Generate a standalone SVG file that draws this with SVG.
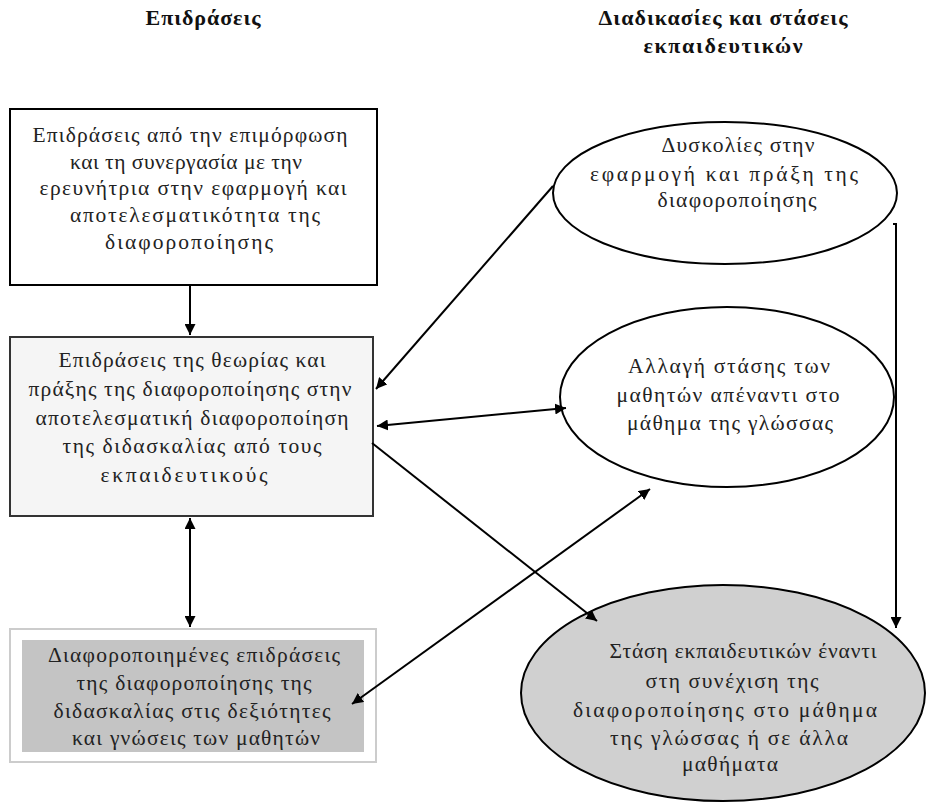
<svg xmlns="http://www.w3.org/2000/svg" width="930" height="807" viewBox="0 0 930 807">
<defs>
<style>
.t{font-family:"Liberation Serif","Times New Roman",serif;font-size:21.5px;fill:#222;text-anchor:middle}
.h{font-family:"Liberation Serif","Times New Roman",serif;font-size:22px;font-weight:bold;fill:#111;text-anchor:middle}
.c{stroke:#000;stroke-width:2;fill:none}
</style>
<marker id="ah" viewBox="0 0 10 10" refX="10" refY="5" markerWidth="11" markerHeight="11" markerUnits="userSpaceOnUse" orient="auto-start-reverse"><path d="M0,0 L10,5 L0,10 z" fill="#000"/></marker>
</defs>
<rect width="930" height="807" fill="#fff"/>
<g id="headings">
<text class="h" x="203" y="25" textLength="115" lengthAdjust="spacing">Επιδράσεις</text>
<text class="h" x="723" y="25" textLength="249" lengthAdjust="spacing">Διαδικασίες και στάσεις</text>
<text class="h" x="723" y="53" textLength="159" lengthAdjust="spacing">εκπαιδευτικών</text>
</g>
<g id="box1">
<rect x="10" y="109" width="367" height="176" fill="#fff" stroke="#000" stroke-width="2"/>
<text class="t" x="190" y="142" textLength="315" lengthAdjust="spacing">Επιδράσεις από την  επιμόρφωση</text>
<text class="t" x="186" y="169" textLength="232" lengthAdjust="spacing">και τη συνεργασία με την</text>
<text class="t" x="193" y="195" textLength="307" lengthAdjust="spacing">ερευνήτρια  στην εφαρμογή και</text>
<text class="t" x="195" y="222" textLength="250" lengthAdjust="spacing">αποτελεσματικότητα της</text>
<text class="t" x="189" y="249" textLength="168" lengthAdjust="spacing">διαφοροποίησης</text>
</g>
<g id="box2">
<rect x="10" y="337" width="363" height="179" fill="#f5f5f5" stroke="#333" stroke-width="2"/>
<text class="t" x="192" y="367" textLength="267" lengthAdjust="spacing">Επιδράσεις της θεωρίας και</text>
<text class="t" x="190" y="396" textLength="323" lengthAdjust="spacing">πράξης της διαφοροποίησης στην</text>
<text class="t" x="192" y="425" textLength="313" lengthAdjust="spacing">αποτελεσματική διαφοροποίηση</text>
<text class="t" x="192" y="453" textLength="259" lengthAdjust="spacing">της διδασκαλίας  από τους</text>
<text class="t" x="184" y="482" textLength="167" lengthAdjust="spacing">εκπαιδευτικούς</text>
</g>
<g id="box3">
<rect x="10" y="629" width="366" height="133" fill="#fff" stroke="#ccc" stroke-width="2"/>
<rect x="22" y="640" width="342" height="112" fill="#c4c4c4"/>
<text class="t" x="194" y="662" textLength="292" lengthAdjust="spacing">Διαφοροποιημένες επιδράσεις</text>
<text class="t" x="194" y="690" textLength="235" lengthAdjust="spacing">της διαφοροποίησης της</text>
<text class="t" x="192" y="718" textLength="277" lengthAdjust="spacing">διδασκαλίας στις δεξιότητες</text>
<text class="t" x="196" y="745" textLength="248" lengthAdjust="spacing">και γνώσεις των μαθητών</text>
</g>
<g id="ellipse1">
<ellipse cx="725" cy="193" rx="172" ry="71" fill="#fff" stroke="#000" stroke-width="2"/>
<text class="t" x="738" y="152" textLength="153" lengthAdjust="spacing">Δυσκολίες στην</text>
<text class="t" x="724" y="181" textLength="268" lengthAdjust="spacing">εφαρμογή και  πράξη της</text>
<text class="t" x="737" y="207" textLength="159" lengthAdjust="spacing">διαφοροποίησης</text>
</g>
<g id="ellipse2">
<ellipse cx="727" cy="397" rx="167" ry="90" fill="#fff" stroke="#000" stroke-width="2"/>
<text class="t" x="729" y="373" textLength="202" lengthAdjust="spacing">Αλλαγή στάσης  των</text>
<text class="t" x="728" y="402" textLength="223" lengthAdjust="spacing">μαθητών απέναντι  στο</text>
<text class="t" x="730" y="430" textLength="206" lengthAdjust="spacing">μάθημα της γλώσσας</text>
</g>
<g id="ellipse3">
<ellipse cx="723" cy="693" rx="202" ry="108" fill="#d0d0d0" stroke="#000" stroke-width="2"/>
<text class="t" x="743" y="658" textLength="267" lengthAdjust="spacing">Στάση εκπαιδευτικών έναντι</text>
<text class="t" x="732" y="688" textLength="173" lengthAdjust="spacing">στη συνέχιση της</text>
<text class="t" x="725" y="717" textLength="304" lengthAdjust="spacing">διαφοροποίησης στο μάθημα</text>
<text class="t" x="729" y="745" textLength="238" lengthAdjust="spacing">της γλώσσας ή σε άλλα</text>
<text class="t" x="730" y="771" textLength="96" lengthAdjust="spacing">μαθήματα</text>
</g>
<g id="connectors">
<line class="c" x1="190" y1="286" x2="190" y2="335" marker-end="url(#ah)"/>
<line class="c" x1="190" y1="518" x2="190" y2="627" marker-start="url(#ah)" marker-end="url(#ah)"/>
<line class="c" x1="553" y1="186" x2="376" y2="389" marker-end="url(#ah)"/>
<line class="c" x1="377" y1="426" x2="566" y2="408" marker-start="url(#ah)" marker-end="url(#ah)"/>
<line class="c" x1="372" y1="443" x2="597" y2="621" marker-end="url(#ah)"/>
<line class="c" x1="650" y1="489" x2="352" y2="704" marker-start="url(#ah)" marker-end="url(#ah)"/>
<polyline class="c" points="893,224 896,224 896,628" marker-end="url(#ah)"/>
</g>
</svg>
